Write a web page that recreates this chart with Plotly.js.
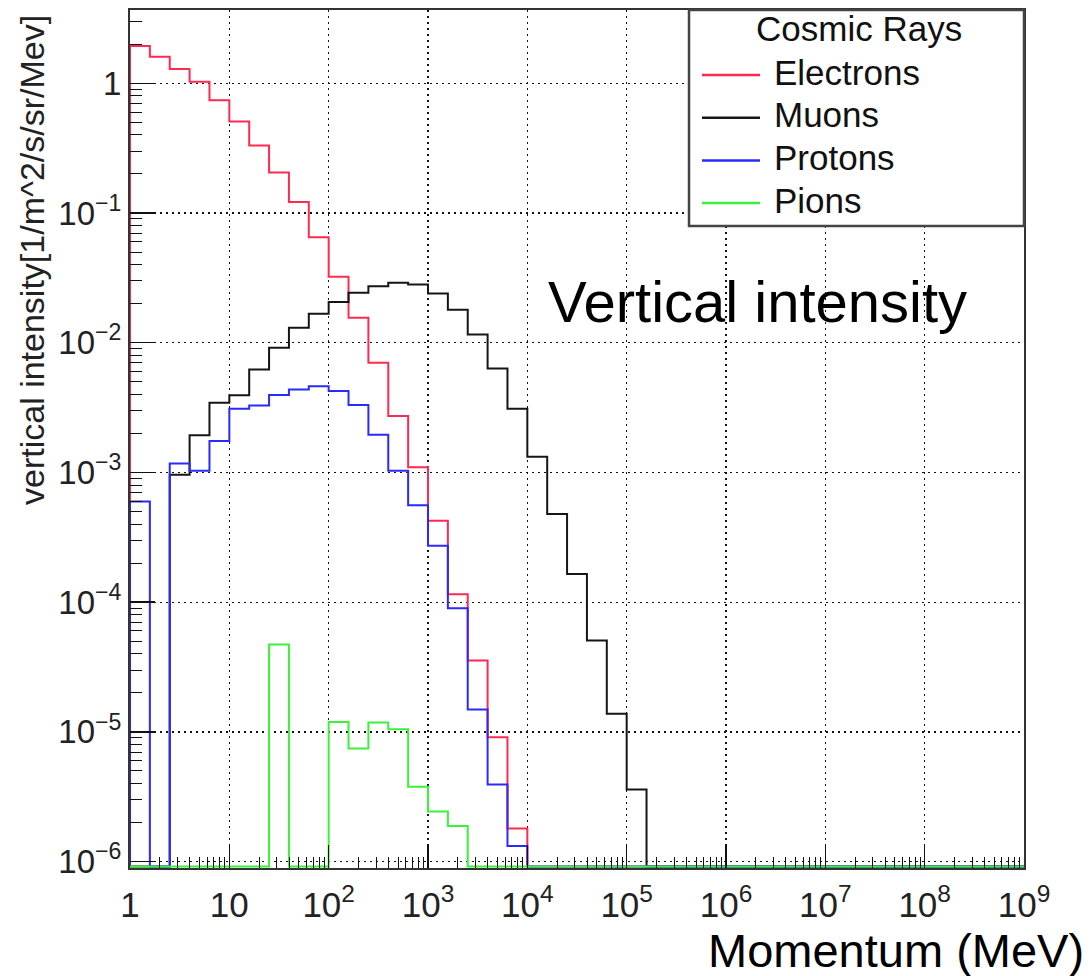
<!DOCTYPE html>
<html><head><meta charset="utf-8">
<script src="https://cdn.plot.ly/plotly-3.0.1.min.js"></script>
<style>html,body{margin:0;padding:0;background:#fff}#plot{width:1090px;height:976px}</style>
</head><body><div id="plot"></div>
<script>
// ---- data ----
const seriesNames = ["Electrons", "Muons", "Protons", "Pions"];
const seriesColors = ["#ff2a50", "#151515", "#2a2aff", "#3cf03c"];
// 5 log bins per decade, from 1 MeV to 1e9 MeV (45 bins)
const binsPerDecade = 5;
const firstEdgeExp = 0;
const electrons = [1.94, 1.6, 1.29, 1.03, 0.74, 0.507, 0.331, 0.205, 0.1215, 0.065,
  0.0323, 0.01556, 0.00702, 0.00272, 0.001096, 4.24e-4, 1.15e-4, 3.55e-5, 9.1e-6, 1.8e-6,
  0, 0, 0, 0, 0, 0, 0, 0, 0, 0, 0, 0, 0, 0, 0, 0, 0, 0, 0, 0, 0, 0, 0, 0, 0];
const muons = [0, 0, 9.6e-4, 1.94e-3, 3.45e-3, 3.93e-3, 6.23e-3, 9.16e-3, 0.01303, 0.0167,
  0.0206, 0.0243, 0.0272, 0.029, 0.0281, 0.024, 0.018, 0.0116, 6.34e-3, 3.1e-3,
  1.32e-3, 4.78e-4, 1.65e-4, 5.07e-5, 1.38e-5, 3.6e-6, 0, 0, 0, 0,
  0, 0, 0, 0, 0, 0, 0, 0, 0, 0, 0, 0, 0, 0, 0];
const protons = [5.98e-4, 0, 1.17e-3, 1.03e-3, 1.75e-3, 3.1e-3, 3.29e-3, 3.95e-3, 4.37e-3, 4.62e-3,
  4.25e-3, 3.31e-3, 1.95e-3, 1.03e-3, 5.6e-4, 2.72e-4, 9.0e-5, 1.49e-5, 3.93e-6, 1.32e-6,
  0, 0, 0, 0, 0, 0, 0, 0, 0, 0, 0, 0, 0, 0, 0, 0, 0, 0, 0, 0, 0, 0, 0, 0, 0];
const pions = [0, 0, 0, 0, 0, 0, 0, 4.72e-5, 0, 0,
  1.19e-5, 7.44e-6, 1.18e-5, 1.05e-5, 3.78e-6, 2.43e-6, 1.88e-6, 0, 0, 0,
  0, 0, 0, 0, 0, 0, 0, 0, 0, 0, 0, 0, 0, 0, 0, 0, 0, 0, 0, 0, 0, 0, 0, 0, 0];
const seriesValues = [electrons, muons, protons, pions];

const xTickVals = [1, 10, 1e2, 1e3, 1e4, 1e5, 1e6, 1e7, 1e8, 1e9];
const xTickText = ["1", "10", "10<sup>2</sup>", "10<sup>3</sup>", "10<sup>4</sup>", "10<sup>5</sup>",
  "10<sup>6</sup>", "10<sup>7</sup>", "10<sup>8</sup>", "10<sup>9</sup>"];
const yTickVals = [1e-6, 1e-5, 1e-4, 1e-3, 1e-2, 1e-1, 1];
const yTickText = ["10<sup>−6</sup>", "10<sup>−5</sup>", "10<sup>−4</sup>", "10<sup>−3</sup>",
  "10<sup>−2</sup>", "10<sup>−1</sup>", "1"];
const legendTitle = "Cosmic Rays";
const xTitle = "Momentum (MeV)";
const yTitle = "vertical intensity[1/m^2/s/sr/Mev]";
const noteText = "Vertical intensity";

// ---- layout geometry ----
const W = 1090, H = 976;
const L = 130, R = 1024, T = 10, B = 868;
const px = x => (x - L) / (R - L);
const py = y => (B - y) / (B - T);
const xRangeLog = [0, 9];
const yRangeLog = [-6.049, 0.565];
const floorVal = Math.pow(10, yRangeLog[0] + 0.012);
const FONT = "Liberation Sans, Arial, Helvetica, sans-serif";

function minorVals(e0, e1) {
  const out = [];
  for (let e = e0; e < e1; e++) for (let m = 2; m <= 9; m++) out.push(m * Math.pow(10, e));
  return out;
}

function histTrace(vals, name, color) {
  const n = vals.length;
  const edges = [];
  for (let k = 0; k <= n; k++) edges.push(Math.pow(10, firstEdgeExp + k / binsPerDecade));
  const x = [edges[0]], y = [floorVal];
  for (let i = 0; i < n; i++) { x.push(edges[i]); y.push(vals[i] > 0 ? vals[i] : floorVal); }
  x.push(edges[n]); y.push(floorVal);
  return { type: "scatter", mode: "lines", x, y, name,
    line: { color, width: 2, shape: "hv" }, showlegend: false, hoverinfo: "skip" };
}

const traces = seriesValues.map((v, i) => histTrace(v, seriesNames[i], seriesColors[i]));

// legend drawn as shapes + annotations
const shapes = [{ type: "rect", xref: "paper", yref: "paper", layer: "above",
  x0: px(689), x1: px(1024), y0: py(226), y1: py(10),
  fillcolor: "#ffffff", line: { color: "#444", width: 2.5 } }];
const annotations = [];
annotations.push({ xref: "paper", yref: "paper", x: px(859), y: py(29), xanchor: "center", yanchor: "middle",
  text: legendTitle, showarrow: false, font: { family: FONT, size: 35, color: "#111" } });
seriesNames.forEach((nm, i) => {
  const rowY = 75 + i * 42.7;
  shapes.push({ type: "line", xref: "paper", yref: "paper", layer: "above",
    x0: px(702), x1: px(760), y0: py(rowY), y1: py(rowY),
    line: { color: seriesColors[i], width: 2.5 } });
  annotations.push({ xref: "paper", yref: "paper", x: px(772), y: py(rowY - 3), xanchor: "left", yanchor: "middle",
    text: nm, showarrow: false, font: { family: FONT, size: 35, color: "#111" } });
});
annotations.push({ xref: "paper", yref: "paper", x: px(757), y: py(301), xanchor: "center", yanchor: "middle",
  text: noteText, showarrow: false, font: { family: FONT, size: 58, color: "#000" } });
annotations.push({ xref: "paper", yref: "paper", x: px(1086), y: py(950), xanchor: "right", yanchor: "middle",
  text: xTitle, showarrow: false, font: { family: FONT, size: 47, color: "#000" } });
annotations.push({ xref: "paper", yref: "paper", x: px(32), y: py(260), xanchor: "center", yanchor: "middle",
  textangle: -90, text: yTitle, showarrow: false, font: { family: FONT, size: 34, color: "#222" } });

const axisCommon = {
  type: "log", showline: true, mirror: true, linecolor: "#333", linewidth: 2,
  showgrid: true, gridcolor: "#111", gridwidth: 1.3, griddash: "2px,4px",
  ticks: "inside", tickcolor: "#111", tickwidth: 1.5, tickmode: "array",
  zeroline: false, fixedrange: true
};

const layout = {
  width: W, height: H, margin: { l: L, r: W - R, t: T, b: H - B },
  paper_bgcolor: "#fff", plot_bgcolor: "#fff", showlegend: false,
  xaxis: Object.assign({}, axisCommon, {
    range: xRangeLog, tickvals: xTickVals, ticktext: xTickText, ticklen: 23,
    ticklabelstandoff: 5,
    tickfont: { family: FONT, size: 35, color: "#222" },
    minor: { tickmode: "array", tickvals: minorVals(0, 9), ticks: "inside", ticklen: 11,
      tickcolor: "#111", tickwidth: 1, showgrid: false }
  }),
  yaxis: Object.assign({}, axisCommon, {
    range: yRangeLog, tickvals: yTickVals, ticktext: yTickText, ticklen: 25,
    tickfont: { family: FONT, size: 33, color: "#222" },
    minor: { tickmode: "array", tickvals: minorVals(-6, 1), ticks: "inside", ticklen: 12,
      tickcolor: "#111", tickwidth: 1, showgrid: false }
  }),
  shapes, annotations
};

Plotly.newPlot("plot", traces, layout, { displayModeBar: false, staticPlot: true });
</script></body></html>
